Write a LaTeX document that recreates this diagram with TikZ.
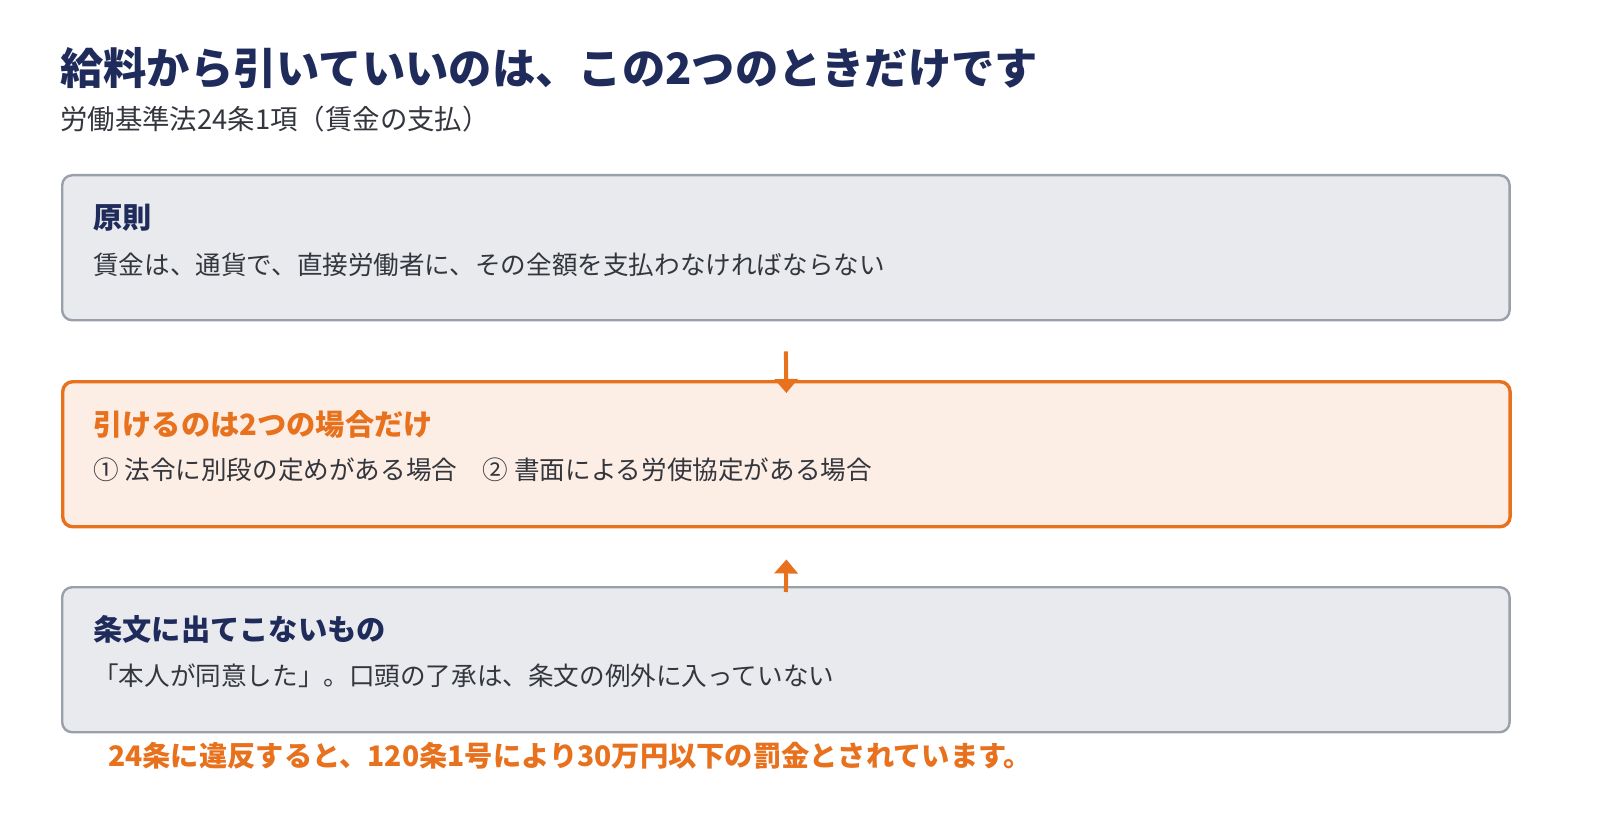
\documentclass[tikz,border=0pt]{standalone}
\usepackage{fontspec}
\setmainfont{Noto Sans CJK JP}
\usetikzlibrary{arrows.meta}
\definecolor{navy}{HTML}{1F2B5B}
\definecolor{ink}{HTML}{33363D}
\definecolor{orng}{HTML}{E8711E}
\definecolor{grayline}{HTML}{9AA0AA}
\definecolor{grayfill}{HTML}{E8EAEE}
\definecolor{orngfill}{HTML}{FCEDE5}

\begin{document}
\begin{tikzpicture}[x=0.025cm,y=-0.025cm,
    box/.style={rounded corners=0.25cm, minimum width=36.175cm, minimum height=3.625cm, anchor=north west, inner sep=0pt},
    head/.style={anchor=west, inner sep=0pt, font=\fontsize{20.8}{24}\selectfont\bfseries},
    body/.style={anchor=west, inner sep=0pt, text=ink, font=\fontsize{18.2}{22}\selectfont},
    flow/.style={orng, line width=0.1cm, -{Triangle[width=0.575cm,length=0.35cm]}}]
    \useasboundingbox (0,0) rectangle (1600,840);
    % title
    \node[anchor=west, inner sep=0pt, text=navy, font=\fontsize{30.8}{36}\selectfont\bfseries] (title) at (60,68) {給料から引いていいのは、この2つのときだけです};
    \node[anchor=west, inner sep=0pt, text=ink, font=\fontsize{19.5}{23}\selectfont] (sub) at (60,119) {労働基準法24条1項（賃金の支払）};
    % boxes
    \node[box, draw=grayline, fill=grayfill, line width=0.06cm] (rule) at (61,174) {};
    \node[box, draw=orng, fill=orngfill, line width=0.085cm] (case) at (61,380) {};
    \node[box, draw=grayline, fill=grayfill, line width=0.06cm] (other) at (61,586) {};
    \node[head, text=navy] (h1) at (93,218) {原則};
    \node[body] (b1) at (93,265) {賃金は、通貨で、直接労働者に、その全額を支払わなければならない};
    \node[head, text=orng] (h2) at (93,424) {引けるのは2つの場合だけ};
    \node[body] (b2) at (93,470) {① 法令に別段の定めがある場合　② 書面による労使協定がある場合};
    \node[head, text=navy] (h3) at (93,629) {条文に出てこないもの};
    \node[body] (b3) at (93,676) {「本人が同意した」。口頭の了承は、条文の例外に入っていない};
    % arrows
    \draw[flow] ([yshift=-0.75cm]rule.south) -- ([yshift=-0.325cm]case.north);
    \draw[flow] ([yshift=-0.15cm]other.north) -- ([yshift=-0.775cm]case.south);
    % note
    \node[anchor=west, inner sep=0pt, text=orng, font=\fontsize{20.1}{24}\selectfont\bfseries] (note) at (108,756) {24条に違反すると、120条1号により30万円以下の罰金とされています。};
\end{tikzpicture}
\end{document}
